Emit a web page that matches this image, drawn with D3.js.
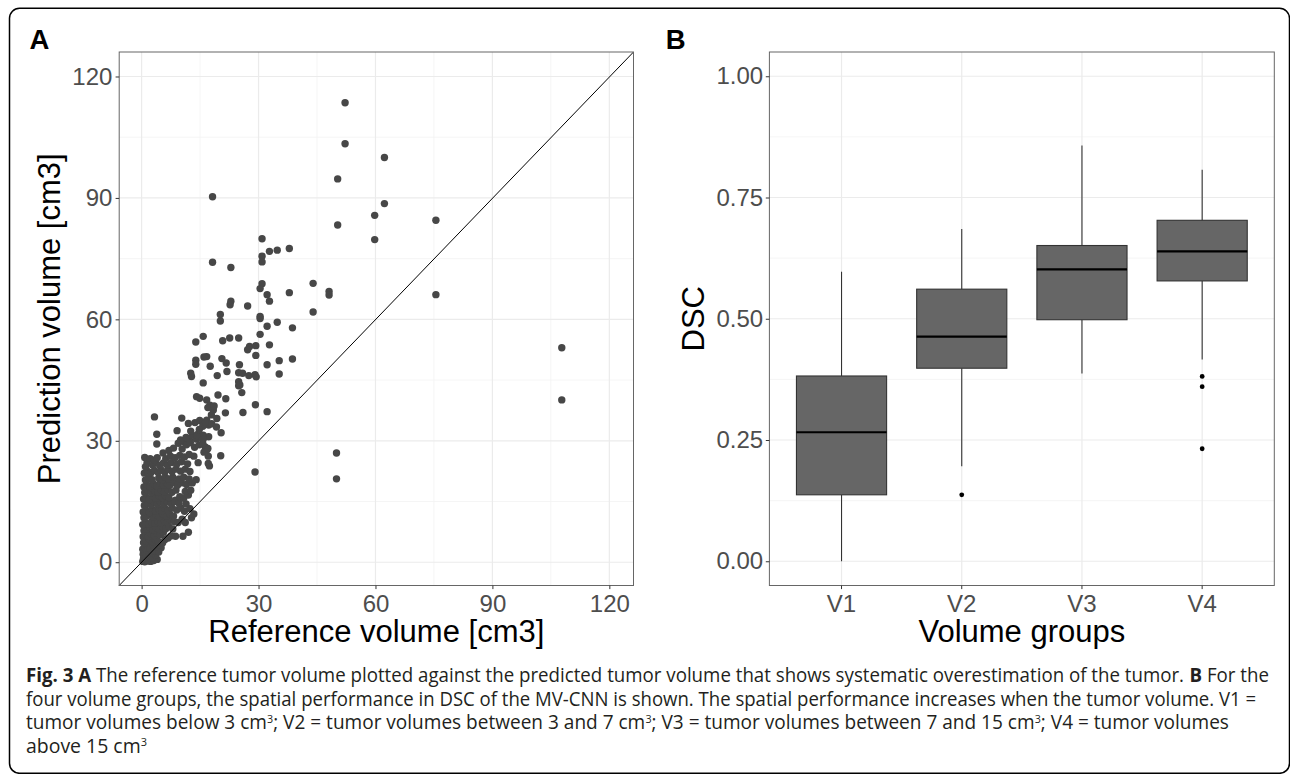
<!DOCTYPE html>
<html>
<head>
<meta charset="utf-8">
<script src="https://cdn.jsdelivr.net/npm/d3@7"></script>
<style>
  body { margin: 0; background: #fff; }
  svg text { font-family: "Liberation Sans", Arial, sans-serif; }
  .caption { font-family: "Open Sans", "Noto Sans", sans-serif !important; }
</style>
</head>
<body>
<svg id="fig" width="1290" height="774"></svg>
<script>
// panel A: reference vs predicted tumor volume [cm3]
const volumePoints = [
  // sparse points
  [52.2,113.5],[52.2,103.4],[62.3,100.0],[50.3,94.7],[18.2,90.3],[62.3,88.6],[59.8,85.7],[75.5,84.5],
  [50.3,83.3],[59.8,79.7],[30.9,79.9],[37.9,77.5],[34.8,77.1],[32.8,76.8],[30.9,75.6],[30.9,74.2],
  [18.2,74.1],[22.9,72.8],[44.0,68.9],[30.9,68.8],[37.9,66.6],[48.1,66.9],[48.1,66.0],[75.5,66.1],
  [30.4,67.6],[32.2,66.1],[32.8,64.5],[22.7,63.6],[22.9,64.5],[27.2,63.3],[44.0,61.8],[20.2,61.2],
  [30.4,60.7],[30.4,60.2],[20.2,59.6],[34.8,59.3],[38.7,57.9],[32.2,58.3],[107.8,53.0],[107.8,40.1],
  [50.0,27.0],[50.0,20.6],[29.1,22.3],[32.2,37.2],[29.2,38.9],[38.7,50.2],[35.3,49.8],[35.3,46.5],
  [32.8,53.7],[32.2,48.8],[29.3,51.1],[29.3,53.5],[27.7,53.3],[27.2,52.5],[30.4,56.3],[24.9,55.4],
  [22.6,55.4],[20.8,54.7],[15.8,55.8],[13.9,54.4],[16.0,50.7],[16.7,50.8],[13.9,49.9],[13.9,48.9],
  [17.6,48.4],[20.6,50.3],[21.7,49.2],[25.1,48.8],[21.9,47.1],[24.9,46.8],[25.9,46.7],[27.5,46.1],
  [29.1,46.3],[29.4,45.8],[24.9,44.6],[24.9,43.6],[19.4,46.1],[12.6,46.7],[12.8,45.9],[15.8,44.3],
  [25.2,43.8],[25.7,41.9],[26.0,37.0],[19.6,41.3],[21.6,40.4],[21.5,36.9],[14.1,40.9],[14.9,40.5],
  [16.7,40.1],[17.5,38.8],[18.4,37.6],[17.9,36.4],[16.7,35.1],[15.8,34.5],[19.3,35.5],[17.0,38.2],
  [18.6,38.6],[3.3,35.9],[10.3,35.6],[12.0,34.3],[13.7,34.5],[14.9,35.0],[17.2,33.9],[15.7,33.6],
  [20.4,32.0],[17.2,31.0],[14.6,31.8],[15.8,31.4],[9.1,32.5],[3.9,31.6],[3.9,29.2],[5.5,27.0],
  [9.4,29.4],[10.7,29.8],[12.4,30.0],[14.1,30.4],[16.3,28.5],[16.7,27.7],[17.1,26.2],[20.3,26.3],
  [17.1,24.4],[17.4,23.8],[12.0,7.4],[10.6,6.4],[8.7,6.4],[12.8,11.0],[13.4,11.9],[8.7,15.3],
  [4.0,0.7],[5.0,3.6],
  // dense cluster, y 0-6
  [0.3,0.2],[0.8,0.1],[1.5,0.3],[2.3,0.2],[3.1,0.4],[0.5,1.0],[1.2,1.2],[2.0,1.5],[2.8,1.1],
  [3.6,1.8],[0.4,2.0],[1.0,2.4],[1.8,2.6],[2.6,2.3],[3.4,2.8],[4.4,2.5],[0.3,3.2],[0.9,3.6],
  [1.5,4.0],[2.2,3.4],[3.0,4.2],[3.8,3.9],[4.6,4.3],[5.4,4.8],[0.5,4.8],[1.2,5.2],[2.0,5.6],
  [2.8,5.0],[3.5,5.6],[4.2,5.2],[6.0,5.6],[6.8,6.0],
  // y 6-12
  [0.4,6.3],[1.0,6.8],[1.7,6.4],[2.5,7.0],[3.2,6.6],[4.0,7.2],[4.8,6.8],[5.6,7.4],[7.5,6.5],
  [0.6,7.8],[1.4,8.2],[2.2,8.6],[3.0,8.0],[3.8,8.5],[4.6,8.1],[5.4,8.7],[6.2,8.3],[7.0,8.8],
  [8.0,8.2],[0.3,9.3],[1.0,9.8],[1.8,9.4],[2.6,10.0],[3.4,9.6],[4.2,10.2],[5.0,9.8],[5.8,10.4],
  [6.6,9.9],[7.4,10.5],[8.4,10.0],[9.4,9.8],[10.4,10.6],[11.2,9.8],[0.6,11.0],[1.4,11.4],
  [2.2,11.8],[3.0,11.2],[3.8,11.7],[4.6,11.3],[5.4,11.9],[6.4,11.5],[7.2,11.9],[8.2,11.4],
  // y 12-18
  [0.4,12.4],[1.2,12.8],[2.0,12.3],[2.8,13.0],[3.6,12.6],[4.4,13.2],[5.2,12.7],[6.0,13.3],
  [6.8,12.8],[7.8,13.4],[9.0,12.9],[10.0,13.4],[11.0,12.6],[12.4,13.2],[0.7,14.0],[1.5,14.5],
  [2.4,14.2],[3.2,14.8],[4.0,14.3],[4.8,14.9],[5.7,14.4],[6.6,14.9],[7.6,14.5],[8.5,15.0],
  [9.6,14.6],[11.4,14.4],[0.5,15.6],[1.2,16.0],[2.0,15.5],[2.9,16.3],[3.7,15.8],[4.5,16.4],
  [5.3,15.9],[6.1,16.5],[7.0,16.0],[9.8,16.2],[10.8,15.8],[12.0,16.6],[0.8,17.2],[1.6,17.6],
  [2.5,17.2],[3.3,17.8],[4.2,17.3],[5.0,17.9],[5.9,17.4],[6.8,17.9],[7.8,17.3],[8.8,17.8],
  [11.2,17.5],[12.6,17.8],
  // y 18-25
  [0.6,18.6],[1.3,19.2],[2.2,18.7],[3.0,19.4],[3.9,18.9],[4.7,19.5],[5.6,19.0],[6.4,19.6],
  [7.3,19.1],[8.2,19.7],[9.2,19.0],[10.2,19.6],[11.5,19.2],[13.0,19.6],[1.0,20.3],[1.8,20.8],
  [2.7,20.4],[4.4,20.8],[5.3,20.4],[6.1,21.0],[7.0,20.5],[8.0,21.0],[9.6,20.6],[10.8,21.0],
  [12.2,20.6],[14.0,20.4],[0.7,22.0],[1.5,22.5],[2.4,22.1],[3.3,22.7],[4.2,22.2],[5.0,22.8],
  [5.9,22.3],[6.8,22.9],[7.8,22.4],[8.8,23.0],[10.0,22.5],[11.2,23.0],[12.4,22.4],[1.0,23.6],
  [1.4,24.6],[2.8,24.0],[3.6,24.6],[4.6,24.0],[5.6,24.5],[6.6,24.0],[7.6,24.6],[9.0,24.2],
  [10.2,24.8],[11.8,24.3],[14.5,24.6],
  // y 25-35
  [0.8,25.9],[2.2,25.6],[3.2,25.2],[4.0,25.8],[6.2,25.6],[7.4,26.2],[8.6,25.8],[9.8,26.4],
  [11.0,26.0],[12.2,26.6],[13.4,26.2],[16.0,27.2],[17.0,28.1],[7.0,27.6],[8.2,28.2],[10.4,28.0],
  [11.5,29.0],[12.5,29.5],[13.6,28.4],[14.8,29.0],[15.7,29.3],[10.0,30.2],[11.4,30.8],[13.0,31.4],
  [14.2,31.3],[15.8,30.4],[12.6,32.4],[14.8,32.8],[16.4,34.6],[18.0,34.2],[19.2,33.4]
];
const volumeTicks = [0, 30, 60, 90, 120];
const volumeMinor = [15, 45, 75, 105];

// panel B: DSC per volume group (box statistics)
const groups = ["V1", "V2", "V3", "V4"];
const whiskerLow = [0.000, 0.196, 0.387, 0.416];
const boxQ1 = [0.137, 0.398, 0.498, 0.578];
const boxMedian = [0.266, 0.463, 0.602, 0.639];
const boxQ3 = [0.382, 0.561, 0.651, 0.703];
const whiskerHigh = [0.597, 0.685, 0.857, 0.807];
const outliers = [["V2", 0.137], ["V4", 0.381], ["V4", 0.360], ["V4", 0.232]];
const dscTicks = [0, 0.25, 0.5, 0.75, 1];
const dscMinor = [0.125, 0.375, 0.625, 0.875];

const svg = d3.select("#fig");
svg.append("rect").attr("width", 1290).attr("height", 774).attr("fill", "#fff");

// outer frame
svg.append("rect")
  .attr("x", 9.5).attr("y", 8.3).attr("width", 1280).attr("height", 765)
  .attr("rx", 10).attr("fill", "none").attr("stroke", "#000").attr("stroke-width", 1.5);

const plotTop = 52, plotBottom = 585.5;
const panelA = { left: 119.2, right: 633.5 };
const panelB = { left: 769.4, right: 1274.3 };

function styleAxis(g) {
  g.select(".domain").remove();
  g.selectAll(".tick line").attr("stroke", "#333").attr("stroke-width", 1);
  g.selectAll(".tick text").attr("fill", "#4d4d4d").style("font-size", "24px");
}

// ---------- panel A ----------
const x = d3.scaleLinear().domain([-5.75, 126.2]).range([panelA.left, panelA.right]);
const y = d3.scaleLinear().domain([-5.75, 126.05]).range([plotBottom, plotTop]);

const gA = svg.append("g");
gA.selectAll(".minorx").data(volumeMinor).enter().append("line")
  .attr("x1", d => x(d)).attr("x2", d => x(d)).attr("y1", plotTop).attr("y2", plotBottom)
  .attr("stroke", "#f2f2f2").attr("stroke-width", 0.8);
gA.selectAll(".minory").data(volumeMinor).enter().append("line")
  .attr("y1", d => y(d)).attr("y2", d => y(d)).attr("x1", panelA.left).attr("x2", panelA.right)
  .attr("stroke", "#f2f2f2").attr("stroke-width", 0.8);
gA.selectAll(".majorx").data(volumeTicks).enter().append("line")
  .attr("x1", d => x(d)).attr("x2", d => x(d)).attr("y1", plotTop).attr("y2", plotBottom)
  .attr("stroke", "#ebebeb").attr("stroke-width", 1.2);
gA.selectAll(".majory").data(volumeTicks).enter().append("line")
  .attr("y1", d => y(d)).attr("y2", d => y(d)).attr("x1", panelA.left).attr("x2", panelA.right)
  .attr("stroke", "#ebebeb").attr("stroke-width", 1.2);

gA.selectAll("circle").data(volumePoints).enter().append("circle")
  .attr("cx", d => x(d[0])).attr("cy", d => y(d[1])).attr("r", 3.7)
  .attr("fill", "#474747");

// identity line y = x
gA.append("line")
  .attr("x1", x(-5.75)).attr("y1", y(-5.75)).attr("x2", x(126.2)).attr("y2", y(126.05))
  .attr("stroke", "#000").attr("stroke-width", 1);

gA.append("rect").attr("x", panelA.left).attr("y", plotTop)
  .attr("width", panelA.right - panelA.left).attr("height", plotBottom - plotTop)
  .attr("fill", "none").attr("stroke", "#666").attr("stroke-width", 1);

gA.append("g").attr("transform", `translate(0,${plotBottom})`)
  .call(d3.axisBottom(x).tickValues(volumeTicks).tickSize(3.6).tickPadding(5.4))
  .call(styleAxis);
gA.append("g").attr("transform", `translate(${panelA.left},0)`)
  .call(d3.axisLeft(y).tickValues(volumeTicks).tickSize(3.6).tickPadding(3.2))
  .call(styleAxis);

gA.append("text").attr("x", (panelA.left + panelA.right) / 2).attr("y", 642)
  .attr("text-anchor", "middle").style("font-size", "31px").attr("fill", "#000")
  .text("Reference volume [cm3]");
gA.append("text").attr("transform", `translate(59.5,${(plotTop + plotBottom) / 2}) rotate(-90)`)
  .attr("text-anchor", "middle").style("font-size", "31px").attr("fill", "#000")
  .text("Prediction volume [cm3]");
gA.append("text").attr("x", 29.5).attr("y", 48.5)
  .style("font-size", "27.5px").style("font-weight", "bold").text("A");

// ---------- panel B ----------
const xb = d3.scaleBand().domain(groups).range([panelB.left, panelB.right])
  .paddingOuter(0.1).paddingInner(0);
const yb = d3.scaleLinear().domain([-0.05, 1.05]).range([plotBottom, plotTop]);
const boxW = xb.bandwidth() * 0.75;
const mid = g => xb(g) + xb.bandwidth() / 2;

const gB = svg.append("g");
gB.selectAll(".minory").data(dscMinor).enter().append("line")
  .attr("y1", d => yb(d)).attr("y2", d => yb(d)).attr("x1", panelB.left).attr("x2", panelB.right)
  .attr("stroke", "#f2f2f2").attr("stroke-width", 0.8);
gB.selectAll(".majory").data(dscTicks).enter().append("line")
  .attr("y1", d => yb(d)).attr("y2", d => yb(d)).attr("x1", panelB.left).attr("x2", panelB.right)
  .attr("stroke", "#ebebeb").attr("stroke-width", 1.2);
gB.selectAll(".majorx").data(groups).enter().append("line")
  .attr("x1", d => mid(d)).attr("x2", d => mid(d)).attr("y1", plotTop).attr("y2", plotBottom)
  .attr("stroke", "#ebebeb").attr("stroke-width", 1.2);

const boxes = gB.selectAll(".box").data(groups).enter().append("g");
boxes.append("line")
  .attr("x1", d => mid(d)).attr("x2", d => mid(d))
  .attr("y1", (d, i) => yb(whiskerLow[i])).attr("y2", (d, i) => yb(boxQ1[i]))
  .attr("stroke", "#333").attr("stroke-width", 1.1);
boxes.append("line")
  .attr("x1", d => mid(d)).attr("x2", d => mid(d))
  .attr("y1", (d, i) => yb(boxQ3[i])).attr("y2", (d, i) => yb(whiskerHigh[i]))
  .attr("stroke", "#333").attr("stroke-width", 1.1);
boxes.append("rect")
  .attr("x", d => mid(d) - boxW / 2).attr("width", boxW)
  .attr("y", (d, i) => yb(boxQ3[i])).attr("height", (d, i) => yb(boxQ1[i]) - yb(boxQ3[i]))
  .attr("fill", "#666").attr("stroke", "#333").attr("stroke-width", 1.1);
boxes.append("line")
  .attr("x1", d => mid(d) - boxW / 2).attr("x2", d => mid(d) + boxW / 2)
  .attr("y1", (d, i) => yb(boxMedian[i])).attr("y2", (d, i) => yb(boxMedian[i]))
  .attr("stroke", "#000").attr("stroke-width", 2.2);

gB.selectAll(".outlier").data(outliers).enter().append("circle")
  .attr("cx", d => mid(d[0])).attr("cy", d => yb(d[1])).attr("r", 2.4).attr("fill", "#000");

gB.append("rect").attr("x", panelB.left).attr("y", plotTop)
  .attr("width", panelB.right - panelB.left).attr("height", plotBottom - plotTop)
  .attr("fill", "none").attr("stroke", "#666").attr("stroke-width", 1);

gB.append("g").attr("transform", `translate(0,${plotBottom})`)
  .call(d3.axisBottom(xb).tickSize(3.6).tickPadding(5.4))
  .call(styleAxis);
gB.append("g").attr("transform", `translate(${panelB.left},0)`)
  .call(d3.axisLeft(yb).tickValues(dscTicks).tickFormat(d3.format(".2f")).tickSize(3.6).tickPadding(2.6))
  .call(styleAxis);

gB.append("text").attr("x", (panelB.left + panelB.right) / 2).attr("y", 642)
  .attr("text-anchor", "middle").style("font-size", "31px").attr("fill", "#000")
  .text("Volume groups");
gB.append("text").attr("transform", `translate(703.5,${(plotTop + plotBottom) / 2}) rotate(-90)`)
  .attr("text-anchor", "middle").style("font-size", "31px").attr("fill", "#000")
  .text("DSC");
gB.append("text").attr("x", 665.7).attr("y", 48.5)
  .style("font-size", "27.5px").style("font-weight", "bold").text("B");

// ---------- caption ----------
// each line is laid out segment by segment, then squeezed to the width seen in the picture
const captionX = 26;
const captionLines = [
  { y: 682, width: 1243, parts: [["Fig. 3 A", "b"], [" The reference tumor volume plotted against the predicted tumor volume that shows systematic overestimation of the tumor. "], ["B", "b"], [" For the"]] },
  { y: 705.5, width: 1231, parts: [["four volume groups, the spatial performance in DSC of the MV-CNN is shown. The spatial performance increases when the tumor volume. V1 ="]] },
  { y: 729, width: 1203, parts: [["tumor volumes below 3 cm"], ["3", "s"], ["; V2 = tumor volumes between 3 and 7 cm"], ["3", "s"], ["; V3 = tumor volumes between 7 and 15 cm"], ["3", "s"], ["; V4 = tumor volumes"]] },
  { y: 752.5, width: 121, parts: [["above 15 cm"], ["3", "s"]] }
];
captionLines.forEach(line => {
  const g = svg.append("g").attr("class", "caption-line");
  let pos = 0;
  line.parts.forEach(p => {
    const t = g.append("text").attr("class", "caption")
      .attr("x", pos).attr("y", p[1] === "s" ? -6.5 : 0)
      .style("font-size", p[1] === "s" ? "11px" : "19.5px")
      .style("white-space", "pre")
      .attr("xml:space", "preserve")
      .attr("fill", "#231f20")
      .text(p[0]);
    if (p[1] === "b") t.style("font-weight", "bold");
    pos += t.node().getComputedTextLength();
  });
  const s = line.width / pos;
  g.attr("transform", `translate(${captionX},${line.y}) scale(${s},1)`);
});
</script>
</body>
</html>
